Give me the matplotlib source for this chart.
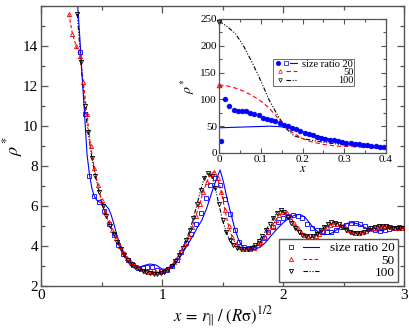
import matplotlib
matplotlib.use("Agg")
import matplotlib.pyplot as plt
from matplotlib.lines import Line2D
from matplotlib.legend_handler import HandlerTuple
from matplotlib.ticker import MultipleLocator, FuncFormatter

plt.rcParams['font.family'] = ['Liberation Serif', 'DejaVu Serif']
plt.rcParams['mathtext.fontset'] = 'stix'

# ---------------- main panel data ----------------
# size ratio 20 : simulation (squares)
x20_sim = [0.32, 0.36, 0.40, 0.44, 0.48, 0.52, 0.56, 0.60, 0.64, 0.68, 0.72, 0.76, 0.80, 0.84, 0.88,
           0.92, 0.96, 1.00, 1.04, 1.08, 1.12, 1.16, 1.20, 1.24, 1.28, 1.32, 1.36, 1.40, 1.44, 1.48,
           1.52, 1.56, 1.60, 1.64, 1.68, 1.72, 1.76, 1.80, 1.84, 1.88, 1.92, 1.96, 2.00, 2.04, 2.08,
           2.12, 2.16, 2.20, 2.24, 2.28, 2.32, 2.36, 2.40, 2.44, 2.48, 2.52, 2.56, 2.60, 2.64, 2.68,
           2.72, 2.76, 2.80, 2.84, 2.88, 2.92, 2.96]
y20_sim = [13.7, 10.6, 7.5, 6.5, 6.2, 5.75, 5.1, 4.55, 4.05, 3.6, 3.3, 3.05, 2.92, 2.9, 2.95,
           2.93, 2.82, 2.75, 2.8, 2.98, 3.3, 3.7, 4.15, 4.6, 5.1, 5.65, 6.4, 7.05, 7.4, 7.05,
           6.35, 5.6, 4.8, 4.2, 3.95, 3.88, 3.93, 4.15, 4.4, 4.7, 4.95, 5.2, 5.4, 5.52, 5.57,
           5.52, 5.38, 5.12, 4.92, 4.78, 4.7, 4.68, 4.72, 4.82, 4.95, 5.05, 5.13, 5.15, 5.08, 4.98,
           4.88, 4.8, 4.77, 4.8, 4.85, 4.9, 4.95]
# size ratio 20 : theory (solid line)
x20_th = [0.30, 0.32, 0.34, 0.36, 0.38, 0.40, 0.42, 0.44, 0.46, 0.48, 0.50, 0.52, 0.54, 0.56, 0.58,
          0.60, 0.62, 0.64, 0.66, 0.68, 0.70, 0.72, 0.74, 0.76, 0.80, 0.85, 0.90, 0.95, 1.00, 1.05,
          1.10, 1.15, 1.20, 1.25, 1.29, 1.33, 1.37, 1.41, 1.45, 1.48, 1.51, 1.54, 1.57, 1.60, 1.63,
          1.66, 1.70, 1.74, 1.78, 1.82, 1.86, 1.90, 1.95, 2.00, 2.05, 2.10, 2.14, 2.18, 2.22, 2.26,
          2.30, 2.34, 2.38, 2.42, 2.46, 2.50, 2.54, 2.58, 2.62, 2.66, 2.70, 2.74, 2.78, 2.82, 2.86,
          2.90, 2.95, 3.00]
y20_th = [16.3, 14.5, 12.5, 10.6, 8.6, 7.6, 6.9, 6.5, 6.3, 6.2, 6.15, 6.1, 6.0, 5.85, 5.55,
          5.15, 4.7, 4.3, 3.95, 3.65, 3.4, 3.2, 3.02, 2.92, 2.92, 3.02, 3.1, 3.05, 2.85, 2.82,
          3.05, 3.45, 3.95, 4.45, 4.9, 5.3, 5.9, 6.65, 7.35, 7.8, 7.15, 6.3, 5.6, 4.9, 4.35,
          4.0, 3.85, 3.82, 3.86, 3.98, 4.2, 4.5, 4.85, 5.15, 5.4, 5.55, 5.58, 5.45, 5.15, 4.85,
          4.65, 4.57, 4.58, 4.7, 4.88, 5.05, 5.15, 5.17, 5.1, 4.98, 4.85, 4.77, 4.75, 4.78, 4.85,
          4.92, 4.97, 4.98]

# size ratio 50 (triangles + dashed)
x50 = [0.23, 0.26, 0.29, 0.32, 0.35, 0.38, 0.41, 0.44, 0.47, 0.50, 0.53, 0.56, 0.59, 0.62, 0.65,
       0.68, 0.71, 0.74, 0.77, 0.80, 0.83, 0.86, 0.89, 0.92, 0.95, 0.98, 1.01, 1.04, 1.07, 1.10,
       1.13, 1.16, 1.19, 1.22, 1.25, 1.28, 1.31, 1.34, 1.37, 1.40, 1.43, 1.46, 1.49, 1.52, 1.55,
       1.58, 1.61, 1.64, 1.67, 1.70, 1.73, 1.76, 1.79, 1.82, 1.85, 1.88, 1.91, 1.94, 1.97, 2.00,
       2.03, 2.06, 2.09, 2.12, 2.15, 2.18, 2.21, 2.24, 2.27, 2.30, 2.33, 2.36, 2.39, 2.42, 2.45,
       2.48, 2.51, 2.54, 2.57, 2.60, 2.63, 2.66, 2.69, 2.72, 2.75, 2.78, 2.81, 2.84, 2.87, 2.90,
       2.93, 2.96, 2.99]
y50 = [15.6, 14.6, 14.0, 13.5, 12.2, 10.6, 9.0, 7.9, 7.05, 6.3, 5.7, 5.2, 4.8, 4.4, 4.0,
       3.7, 3.42, 3.2, 3.05, 2.93, 2.83, 2.77, 2.72, 2.7, 2.7, 2.7, 2.75, 2.85, 2.98, 3.18,
       3.45, 3.75, 4.1, 4.5, 4.95, 5.5, 6.1, 6.7, 7.2, 7.6, 7.7, 7.4, 6.7, 5.8, 5.0,
       4.45, 4.1, 3.95, 3.87, 3.85, 3.85, 3.92, 4.05, 4.22, 4.45, 4.72, 5.0, 5.3, 5.55, 5.68,
       5.65, 5.45, 5.15, 4.88, 4.68, 4.55, 4.48, 4.47, 4.52, 4.62, 4.77, 4.93, 5.05, 5.12, 5.12,
       5.05, 4.93, 4.8, 4.7, 4.65, 4.65, 4.68, 4.75, 4.83, 4.9, 4.96, 5.0, 5.0, 4.98, 4.94,
       4.92, 4.9, 4.9]

# size ratio 100 (down triangles + dash-dot-dot)
x100 = [0.30, 0.33, 0.36, 0.39, 0.42, 0.45, 0.48, 0.51, 0.54, 0.57, 0.60, 0.63, 0.66, 0.69, 0.72,
        0.75, 0.78, 0.81, 0.84, 0.87, 0.90, 0.93, 0.96, 0.99, 1.02, 1.05, 1.08, 1.11, 1.14, 1.17,
        1.20, 1.23, 1.26, 1.29, 1.32, 1.35, 1.38, 1.41, 1.44, 1.47, 1.50, 1.53, 1.56, 1.59, 1.62,
        1.65, 1.68, 1.71, 1.74, 1.77, 1.80, 1.83, 1.86, 1.89, 1.92, 1.95, 1.98, 2.01, 2.04, 2.07,
        2.10, 2.13, 2.16, 2.19, 2.22, 2.25, 2.28, 2.31, 2.34, 2.37, 2.40, 2.43, 2.46, 2.49, 2.52,
        2.55, 2.58, 2.61, 2.64, 2.67, 2.70, 2.73, 2.76, 2.79, 2.82, 2.85, 2.88, 2.91, 2.94, 2.97,
        3.00]
y100 = [15.6, 13.2, 11.0, 9.7, 8.4, 7.5, 6.7, 6.0, 5.5, 5.0, 4.6, 4.2, 3.85, 3.55, 3.3,
        3.1, 2.95, 2.85, 2.75, 2.7, 2.65, 2.62, 2.62, 2.65, 2.72, 2.85, 3.0, 3.25, 3.55, 3.9,
        4.3, 4.8, 5.4, 6.1, 6.8, 7.4, 7.67, 7.5, 6.9, 6.1, 5.3, 4.7, 4.3, 4.05, 3.92,
        3.85, 3.83, 3.85, 3.92, 4.05, 4.25, 4.5, 4.8, 5.1, 5.4, 5.65, 5.78, 5.7, 5.45, 5.15,
        4.9, 4.7, 4.57, 4.5, 4.48, 4.52, 4.62, 4.78, 4.95, 5.1, 5.18, 5.17, 5.08, 4.95, 4.82,
        4.72, 4.67, 4.65, 4.67, 4.72, 4.8, 4.88, 4.95, 5.0, 5.02, 5.0, 4.96, 4.92, 4.9, 4.9,
        4.92]

# ---------------- inset data ----------------
xi_pts = [0.005, 0.015, 0.025, 0.035, 0.045, 0.055, 0.065, 0.075, 0.085, 0.095, 0.105, 0.115,
          0.125, 0.135, 0.145, 0.155, 0.165, 0.175, 0.185, 0.195, 0.205, 0.215, 0.225, 0.235,
          0.245, 0.255, 0.265, 0.275, 0.285, 0.295, 0.305, 0.315, 0.325, 0.335, 0.345, 0.355,
          0.365, 0.375, 0.385, 0.395]
yi_pts = [23, 101, 88, 80, 79, 78.5, 77.5, 74, 72.5, 70, 66, 64,
          62, 59, 56, 53, 50, 47, 44, 41, 38, 35.5, 33, 30.5,
          28.5, 26.5, 25, 23.5, 22, 20.5, 19.5, 18, 17, 16, 15, 14,
          13.5, 12.5, 12, 11]
xi_line = [0.0, 0.02, 0.04, 0.06, 0.08, 0.10, 0.12, 0.14, 0.16, 0.18, 0.20, 0.22, 0.25, 0.28,
           0.31, 0.34, 0.37, 0.40]
yi20 = [47, 47.5, 48, 48.5, 49, 49.5, 50, 49.5, 48, 45, 40, 35, 29, 23, 18, 14, 11, 8.5]
yi50 = [127, 125, 121, 115, 107, 97, 84, 66, 48, 36, 27, 21, 16, 13, 12, 11, 10, 9]
yi100 = [246, 236, 222, 198, 168, 135, 99, 71, 46, 32, 27, 24, 20, 17, 14, 12, 10, 8.5]
x_contact = [0.0]
y_contact50 = [127]
y_contact100 = [245]

labels = ['size ratio 20', '50', '100']

BLUE = '#0000ff'
RED = '#ff0000'
FRAME = '#555555'
dashdotdot = (0, (4, 1.5, 1, 1.5, 1, 1.5))

fig = plt.figure(figsize=(4.09, 3.29), dpi=100)
ax = fig.add_axes([41 / 409, 43 / 329, 363 / 409, 280 / 329])

ms = 3.0
mew = 0.6
ax.plot(x100, y100, color='black', lw=0.8, ls=dashdotdot, zorder=2)
ax.plot(x50, y50, color=RED, lw=0.8, ls=(0, (3, 2)), zorder=2)
ax.plot(x20_th, y20_th, color=BLUE, lw=0.8, zorder=2)
ax.plot(x20_sim, y20_sim, ls='none', marker='s', ms=ms, mfc='none', mec=BLUE, mew=mew, zorder=3)
ax.plot(x50, y50, ls='none', marker='^', ms=ms, mfc='none', mec=RED, mew=mew, zorder=3)
ax.plot(x100, y100, ls='none', marker='v', ms=ms, mfc='none', mec='black', mew=mew, zorder=4)

ax.set_xlim(0, 3)
ax.set_ylim(2, 16)
ax.xaxis.set_major_locator(MultipleLocator(1))
ax.xaxis.set_minor_locator(MultipleLocator(0.5))
ax.yaxis.set_minor_locator(MultipleLocator(1))
ax.set_yticks([2, 4, 6, 8, 10, 12, 14])
ax.tick_params(which='both', direction='in', top=True, right=True, color=FRAME, labelsize=11, pad=2)
ax.tick_params(which='major', length=5, width=0.9)
ax.tick_params(which='minor', length=3, width=0.9)
for s in ax.spines.values():
    s.set_color(FRAME)
    s.set_linewidth(1.0)
ax.set_xlabel(r'$x\,=\,r_{\|}\;/\;(R\mathrm{\sigma})^{1/2}$', fontsize=12, labelpad=2)
ax.set_ylabel(r'$\rho^*$', fontsize=13)
ax.yaxis.set_label_coords(-0.045, 0.5)

h20 = (Line2D([], [], ls='none', marker='s', ms=ms, mfc='none', mec=BLUE, mew=mew),
       Line2D([], [], color=BLUE, lw=0.8))
h50 = (Line2D([], [], ls='none', marker='^', ms=ms, mfc='none', mec=RED, mew=mew),
       Line2D([], [], color=RED, lw=0.8, ls=(0, (3, 2))))
h100 = (Line2D([], [], ls='none', marker='v', ms=ms, mfc='none', mec='black', mew=mew),
        Line2D([], [], color='black', lw=0.8, ls=dashdotdot))
leg = ax.legend([h20, h50, h100], labels, loc='lower right', bbox_to_anchor=(0.983, 0.014),
                borderaxespad=0, fontsize=9.5, handlelength=2.8, handletextpad=0.8,
                labelspacing=0.0, borderpad=0.25, fancybox=False, framealpha=1,
                edgecolor=FRAME, handler_map={tuple: HandlerTuple(ndivide=None, pad=0.3)})
leg.get_frame().set_linewidth(1.0)

# ---------------- inset ----------------
axi = fig.add_axes([219 / 409, (329 - 153) / 329, 167 / 409, 134 / 329])
axi.plot(xi_line, yi100, color='black', lw=0.8, ls=dashdotdot)
axi.plot(xi_line, yi50, color=RED, lw=0.8, ls=(0, (4, 2.5)))
axi.plot(xi_line, yi20, color=BLUE, lw=0.8)
axi.plot(xi_pts, yi_pts, ls='none', marker='o', ms=3.4, mfc=BLUE, mec=BLUE, mew=0.5)
axi.plot(x_contact, y_contact50, ls='none', marker='^', ms=3.2, mfc='none', mec=RED, mew=0.8, clip_on=False)
axi.plot(x_contact, y_contact100, ls='none', marker='v', ms=3.2, mfc='none', mec='black', mew=0.8, clip_on=False)
axi.set_xlim(0, 0.4)
axi.set_ylim(0, 250)
axi.xaxis.set_major_locator(MultipleLocator(0.1))
axi.xaxis.set_minor_locator(MultipleLocator(0.05))
axi.yaxis.set_major_locator(MultipleLocator(50))
axi.yaxis.set_minor_locator(MultipleLocator(25))
axi.xaxis.set_major_formatter(FuncFormatter(lambda v, p: '0' if abs(v) < 1e-9 else f'{v:.1f}'))
axi.yaxis.set_major_formatter(FuncFormatter(lambda v, p: f'{v:.0f}'))
axi.tick_params(which='both', direction='in', top=True, right=True, color=FRAME, labelsize=8, pad=1.5)
axi.tick_params(which='major', length=3.5, width=0.8)
axi.tick_params(which='minor', length=2, width=0.8)
for s in axi.spines.values():
    s.set_color(FRAME)
    s.set_linewidth(0.9)
axi.set_xlabel(r'$x$', fontsize=9, labelpad=-1)
axi.set_ylabel(r'$\rho^*$', fontsize=10)
axi.yaxis.set_label_coords(-0.13, 0.5)

g20 = (Line2D([], [], ls='none', marker='o', ms=2.6, mfc=BLUE, mec=BLUE),
       Line2D([], [], ls='none', marker='s', ms=2.6, mfc='none', mec=BLUE, mew=0.5),
       Line2D([], [], color=BLUE, lw=0.8))
g50 = (Line2D([], [], ls='none', marker='^', ms=2.6, mfc='none', mec=RED, mew=0.5),
       Line2D([], [], color=RED, lw=0.8, ls=(0, (4, 2.5))))
g100 = (Line2D([], [], ls='none', marker='v', ms=2.6, mfc='none', mec='black', mew=0.5),
        Line2D([], [], color='black', lw=0.8, ls=dashdotdot))
legi = axi.legend([g20, g50, g100], labels, loc='upper left', bbox_to_anchor=(0.325, 0.705),
                  borderaxespad=0, fontsize=7.5, handlelength=2.2, handletextpad=0.5,
                  labelspacing=-0.1, borderpad=0.1, fancybox=False, framealpha=1,
                  edgecolor=FRAME, handler_map={tuple: HandlerTuple(ndivide=None, pad=0.1)})
legi.get_frame().set_linewidth(0.6)

# right-align legend labels
renderer = fig.canvas.get_renderer()
for lg in (leg, legi):
    texts = lg.get_texts()
    widths = [t.get_window_extent(renderer).width for t in texts]
    wmax = max(widths)
    for t, w in zip(texts, widths):
        t.set_position((wmax - w, 0))

fig.savefig('out.png', dpi=100)
